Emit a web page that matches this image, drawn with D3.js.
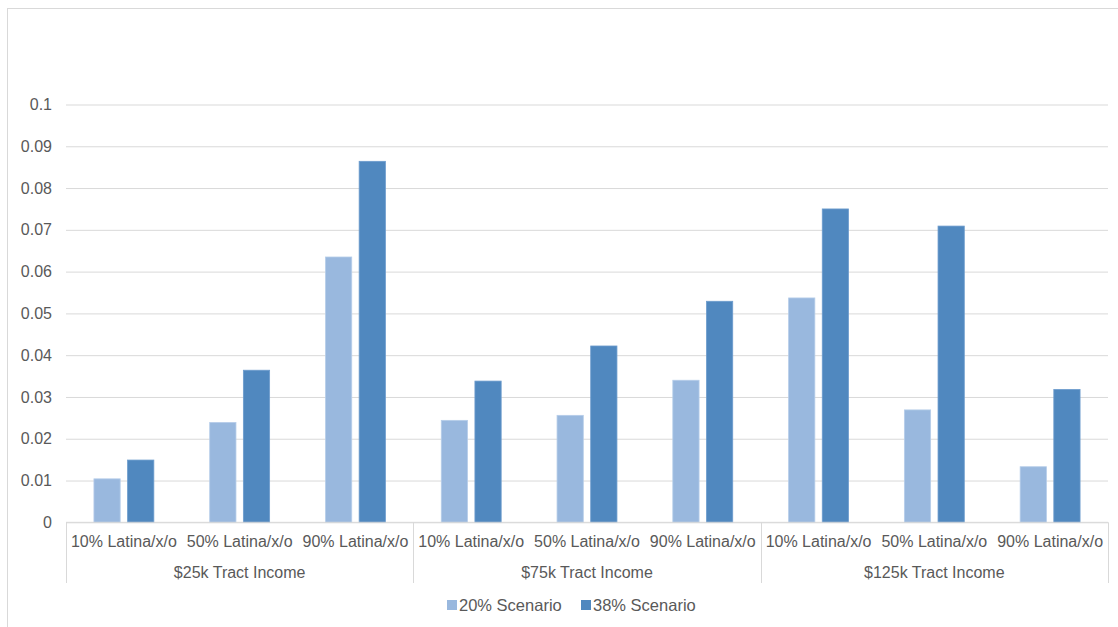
<!DOCTYPE html>
<html>
<head>
<meta charset="utf-8">
<script src="https://cdn.jsdelivr.net/npm/d3@7"></script>
<style>
  html, body { margin: 0; padding: 0; background: #fff; }
  svg { display: block; font-family: "Liberation Sans", Arial, sans-serif; }
</style>
</head>
<body>
<svg id="chart" width="1118" height="627"></svg>
<script>
const groups = ["$25k Tract Income", "$75k Tract Income", "$125k Tract Income"];
const subCategories = ["10% Latina/x/o", "50% Latina/x/o", "90% Latina/x/o"];
const seriesNames = ["20% Scenario", "38% Scenario"];
const scenario20 = [0.0104, 0.0239, 0.0635, 0.0244, 0.0256, 0.0340, 0.0537, 0.0269, 0.0133];
const scenario38 = [0.0149, 0.0364, 0.0864, 0.0338, 0.0422, 0.0529, 0.0750, 0.0709, 0.0318];
const yTicks = [0, 0.01, 0.02, 0.03, 0.04, 0.05, 0.06, 0.07, 0.08, 0.09, 0.1];
const colors = ["#99b8de", "#5088bf"];

(function () {
const rows = [];
groups.forEach((g, gi) => subCategories.forEach((s, si) => {
  const i = gi * subCategories.length + si;
  rows.push({ key: g + "|" + s, group: g, sub: s, values: [scenario20[i], scenario38[i]] });
}));

const svg = d3.select("#chart");
const pLeft = 66, pRight = 1108, pTop = 104.5, pBottom = 522.3;

// outer frame
svg.append("rect").attr("x", 7.5).attr("y", 8.5).attr("width", 1200).attr("height", 1200)
  .attr("fill", "none").attr("stroke", "#d9d9d9").attr("stroke-width", 1);

const y = d3.scaleLinear().domain([0, 0.1]).range([pBottom, pTop]);
const x0 = d3.scaleBand().domain(rows.map(r => r.key)).range([pLeft, pRight]).padding(0);
const x1 = d3.scaleBand().domain(seriesNames).range([0, x0.bandwidth()])
  .paddingInner(0.22).paddingOuter(0.83);

// gridlines
const yAxis = d3.axisLeft(y).tickValues(yTicks).tickSize(-(pRight - pLeft)).tickPadding(14)
  .tickFormat(d => d === 0 ? "0" : String(+d.toFixed(2)));
const gy = svg.append("g").attr("transform", `translate(${pLeft},0)`).call(yAxis);
gy.select(".domain").remove();
gy.selectAll(".tick line").attr("stroke", "#d9d9d9").attr("stroke-width", 1);
gy.selectAll(".tick text").attr("fill", "#595959").style("font-size", "16px");

// bars
const cat = svg.append("g").selectAll("g").data(rows).join("g")
  .attr("transform", d => `translate(${x0(d.key)},0)`);
cat.selectAll("rect").data(d => d.values.map((v, i) => ({ v, s: seriesNames[i], i })))
  .join("rect")
  .attr("x", d => x1(d.s))
  .attr("width", x1.bandwidth())
  .attr("y", d => y(d.v))
  .attr("height", d => y(0) - y(d.v))
  .attr("fill", d => colors[d.i])
  .attr("stroke", d => d.i === 0 ? "#b6cde9" : "#6d9ccd")
  .attr("stroke-width", 0.8);

// x axis baseline
svg.append("line").attr("x1", pLeft).attr("x2", pRight).attr("y1", pBottom).attr("y2", pBottom)
  .attr("stroke", "#d9d9d9").attr("stroke-width", 1);

// sub category labels
const xAxis = d3.axisBottom(x0).tickSize(0).tickPadding(13).tickFormat(k => k.split("|")[1]);
const gx = svg.append("g").attr("transform", `translate(0,${pBottom})`).call(xAxis);
gx.select(".domain").remove();
gx.selectAll(".tick text").attr("fill", "#595959").style("font-size", "16px");

// group labels and separators
const groupScale = d3.scaleBand().domain(groups).range([pLeft, pRight]).padding(0);
svg.append("g").selectAll("text").data(groups).join("text")
  .attr("x", d => groupScale(d) + groupScale.bandwidth() / 2)
  .attr("y", 578)
  .attr("text-anchor", "middle")
  .attr("fill", "#595959")
  .style("font-size", "16px")
  .text(d => d);
const seps = groups.map(g => groupScale(g)).concat([pRight]);
svg.append("g").selectAll("line").data(seps).join("line")
  .attr("x1", d => Math.round(d) + 0.5).attr("x2", d => Math.round(d) + 0.5)
  .attr("y1", pBottom).attr("y2", 583)
  .attr("stroke", "#d9d9d9").attr("stroke-width", 1);

// legend
const legendX = [447, 581];
const lg = svg.append("g").selectAll("g").data(seriesNames).join("g")
  .attr("transform", (d, i) => `translate(${legendX[i]},605)`);
lg.append("rect").attr("x", 0).attr("y", -5).attr("width", 10).attr("height", 10)
  .attr("fill", (d, i) => colors[i]);
lg.append("text").attr("x", 12).attr("y", 6).attr("fill", "#595959")
  .style("font-size", "16.5px").text(d => d);
})();
</script>
</body>
</html>
